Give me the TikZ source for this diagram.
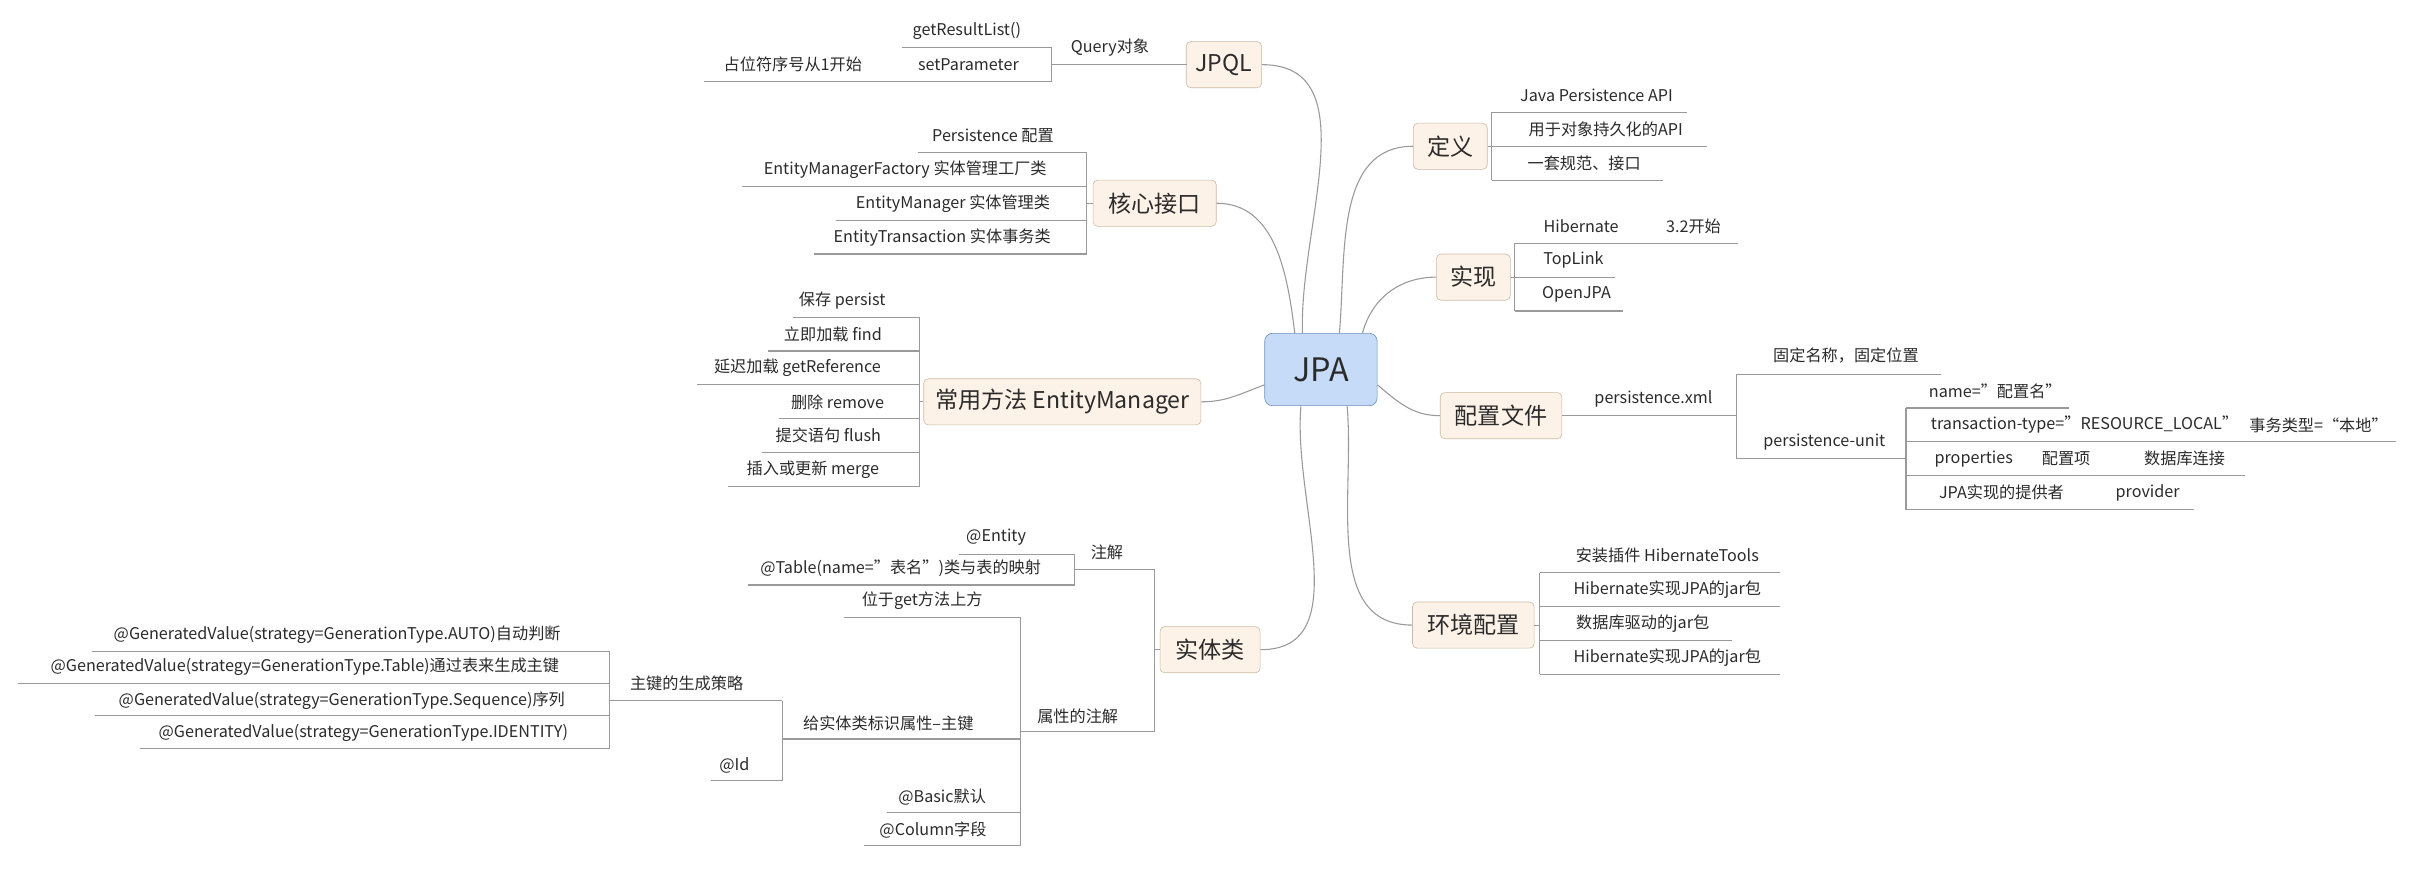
\documentclass[tikz,border=0pt]{standalone}
\usepackage{fontspec}
\setmainfont{Noto Sans CJK SC}
\definecolor{lnc}{HTML}{9A9A9A}
\definecolor{txc}{HTML}{2B2B2B}
\definecolor{tpf}{HTML}{FDF2E7}
\definecolor{tpd}{HTML}{CDBBA5}
\definecolor{cf}{HTML}{C6DBF7}
\definecolor{cd}{HTML}{6D8DBF}
\tikzset{
  ln/.style={draw=lnc, line width=0.7pt},
  txt/.style={font=\fontsize{10.5}{12}\selectfont, text=txc, inner sep=0pt},
  topic/.style={draw=tpd, fill=tpf, rounded corners=3pt, font=\fontsize{15}{18}\selectfont, text=txc, minimum height=30pt, inner sep=0pt},
  central/.style={draw=cd, fill=cf, rounded corners=5pt, font=\fontsize{21}{24}\selectfont, text=txc, minimum width=73pt, minimum height=47pt, inner sep=0pt}
}
\newcommand\UL[3]{\draw[ln] (#1,#3) -- (#2,#3);}
\newcommand\VL[3]{\draw[ln] (#1,#2) -- (#1,#3);}
\newcommand\TX[4]{\node[txt] (#1) at (#2,#3) {#4};}
\begin{document}
\begin{tikzpicture}[x=1pt,y=-1pt]
\useasboundingbox[fill=white] (0,0) rectangle (1568,565);
% central and topics
\node[central] (jpa) at (858,240) {JPA};
\node[topic, minimum width=49pt] (jpql) at (795,42) {JPQL};
\node[topic, minimum width=80pt] (core) at (750,132) {核心接口};
\node[topic, minimum width=180pt] (em) at (690,261) {常用方法 EntityManager};
\node[topic, minimum width=65pt] (ent) at (786,422) {实体类};
\node[topic, minimum width=48pt] (def) at (942,95) {定义};
\node[topic, minimum width=48pt] (impl) at (957,180) {实现};
\node[topic, minimum width=79pt] (cfg) at (975,270) {配置文件};
\node[topic, minimum width=79pt] (env) at (957,406) {环境配置};
% central connectors
\draw[ln] ([xshift=-12pt]jpa.north) to[out=92,in=0] (jpql.east);
\draw[ln] ([xshift=-17pt]jpa.north) to[out=97,in=0] (core.east);
\draw[ln] ([yshift=-10pt]jpa.west) to[out=200,in=0] (em.east);
\draw[ln] ([xshift=-13pt]jpa.south) to[out=-95,in=0] (ent.east);
\draw[ln] ([xshift=12pt]jpa.north) to[out=85,in=180] (def.west);
\draw[ln] ([xshift=27pt]jpa.north) to[out=75,in=180] (impl.west);
\draw[ln] ([yshift=-10pt]jpa.east) to[out=-40,in=180] (cfg.west);
\draw[ln] ([xshift=17pt]jpa.south) to[out=-85,in=180] (env.west);
% JPQL
\TX{q}{721}{31}{Query对象}
\UL{683}{771}{42}
\VL{683}{31}{53}
\TX{q1}{628}{20}{getResultList()}
\UL{586}{683}{31}
\TX{q2}{629}{42}{setParameter}
\UL{584}{683}{53}
\TX{q3}{515}{42}{占位符序号从1开始}
\UL{457}{584}{53}
% core
\draw[ln] (core.west) -- (706,132);
\VL{706}{99}{165}
\TX{c1}{645}{88}{Persistence 配置}
\UL{596}{706}{99}
\TX{c2}{588}{110}{EntityManagerFactory 实体管理工厂类}
\UL{482}{706}{121}
\TX{c3}{619}{132}{EntityManager 实体管理类}
\UL{543}{706}{143}
\TX{c4}{612}{154}{EntityTransaction 实体事务类}
\UL{529}{706}{165}
% EntityManager methods
\draw[ln] (em.west) -- (597,261);
\VL{597}{206}{316}
\TX{m1}{547}{195}{保存 persist}
\UL{515}{597}{206}
\TX{m2}{541}{217}{立即加载 find}
\UL{499}{597}{228}
\TX{m3}{518}{239}{延迟加载 getReference}
\UL{453}{597}{250}
\TX{m4}{544}{261}{删除 remove}
\UL{506}{597}{272}
\TX{m5}{538}{283}{提交语句 flush}
\UL{495}{597}{294}
\TX{m6}{528}{305}{插入或更新 merge}
\UL{473}{597}{316}
% entity
\draw[ln] (ent.west) -- (750,422);
\VL{750}{370}{475}
\TX{e1}{719}{359}{注解}
\UL{698}{750}{370}
\VL{698}{360}{380}
\TX{e11}{647}{349}{@Entity}
\UL{623}{698}{360}
\TX{e12}{585}{369}{@Table(name="表名")类与表的映射}
\UL{486}{698}{380}
\TX{e2}{700}{465}{属性的注解}
\UL{663}{750}{475}
\VL{663}{401}{549}
\TX{e21}{599}{390}{位于get方法上方}
\UL{548}{663}{401}
\TX{e22}{577}{470}{给实体类标识属性--主键}
\UL{508}{663}{480}
\VL{508}{455}{507}
\TX{e221}{446}{444}{主键的生成策略}
\UL{396}{508}{455}
\VL{396}{423}{486}
\TX{g1}{219}{412}{@GeneratedValue(strategy=GenerationType.AUTO)自动判断}
\UL{60}{396}{423}
\TX{g2}{198}{433}{@GeneratedValue(strategy=GenerationType.Table)通过表来生成主键}
\UL{12}{396}{444}
\TX{g3}{222}{455}{@GeneratedValue(strategy=GenerationType.Sequence)序列}
\UL{62}{396}{465}
\TX{g4}{236}{476}{@GeneratedValue(strategy=GenerationType.IDENTITY)}
\UL{91}{396}{486}
\TX{e222}{477}{497}{@Id}
\UL{462}{508}{507}
\TX{e23}{612}{518}{@Basic默认}
\UL{576}{663}{528}
\TX{e24}{606}{539}{@Column字段}
\UL{561}{663}{549}
% definition
\draw[ln] (def.east) -- (969,95);
\VL{969}{73}{117}
\TX{d1}{1037}{62}{Java Persistence API}
\UL{969}{1096}{73}
\TX{d2}{1043}{84}{用于对象持久化的API}
\UL{969}{1109}{95}
\TX{d3}{1029}{106}{一套规范、接口}
\UL{969}{1080}{117}
% implementation
\draw[ln] (impl.east) -- (984,180);
\VL{984}{158}{202}
\TX{i1}{1027}{147}{Hibernate}
\TX{i11}{1100}{147}{3.2开始}
\UL{984}{1129}{158}
\TX{i2}{1022}{169}{TopLink}
\UL{984}{1049}{180}
\TX{i3}{1024}{191}{OpenJPA}
\UL{984}{1054}{202}
% config file
\TX{f1}{1074}{259}{persistence.xml}
\draw[ln] (cfg.east) -- (1128,270);
\VL{1128}{243}{298}
\TX{f11}{1199}{231}{固定名称，固定位置}
\UL{1128}{1261}{243}
\TX{f12}{1185}{287}{persistence-unit}
\UL{1128}{1238}{298}
\VL{1238}{265}{331}
\TX{p1}{1296}{254}{name="配置名"}
\UL{1238}{1344}{265}
\TX{p2}{1354}{276}{transaction-type="RESOURCE\_LOCAL"}
\TX{p21}{1506}{276}{事务类型=“本地”}
\UL{1238}{1556}{287}
\TX{p3}{1282}{298}{properties}
\TX{p31}{1342}{298}{配置项}
\TX{p32}{1419}{298}{数据库连接}
\UL{1238}{1458}{309}
\TX{p4}{1300}{320}{JPA实现的提供者}
\TX{p41}{1395}{320}{provider}
\UL{1238}{1425}{331}
% environment
\draw[ln] (env.east) -- (1000,406);
\VL{1000}{372}{438}
\TX{v1}{1083}{361}{安装插件 HibernateTools}
\UL{1000}{1156}{372}
\TX{v2}{1083}{383}{Hibernate实现JPA的jar包}
\UL{1000}{1156}{394}
\TX{v3}{1067}{405}{数据库驱动的jar包}
\UL{1000}{1125}{416}
\TX{v4}{1083}{427}{Hibernate实现JPA的jar包}
\UL{1000}{1156}{438}
\end{tikzpicture}
\end{document}
